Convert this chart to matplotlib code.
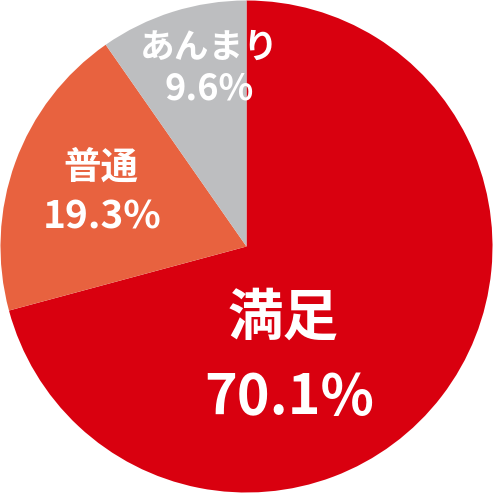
import matplotlib
matplotlib.use("Agg")
import matplotlib.pyplot as plt

categories = ["満足", "普通", "あんまり"]
values = [70.1, 19.3, 9.6]
value_labels = ["70.1%", "19.3%", "9.6%"]
colors = ["#d9000f", "#e8623f", "#bdbec0"]

plt.rcParams['font.family'] = ['Noto Sans CJK JP', 'DejaVu Sans']

fig = plt.figure(figsize=(4.93, 4.93), dpi=100)
ax = fig.add_axes([0, 0, 1, 1])
ax.pie(values, colors=colors, startangle=90, counterclock=False, radius=1.0,
       wedgeprops=dict(linewidth=0))
ax.set_xlim(-1.002, 1.002)
ax.set_ylim(-1.002, 1.002)
ax.set_aspect('equal')
ax.axis('off')

# label positions (name, value) and sizes
pos = [((0.148, -0.294), (0.172, -0.615), 40, 40),
       ((-0.590, 0.323), (-0.586, 0.118), 27, 28),
       ((-0.150, 0.809), (-0.150, 0.639), 25, 26)]
for cat, vl, (p1, p2, s1, s2) in zip(categories, value_labels, pos):
    ax.text(p1[0], p1[1], cat, ha='center', va='center', color='white',
            fontsize=s1, fontweight='bold')
    ax.text(p2[0], p2[1], vl, ha='center', va='center', color='white',
            fontsize=s2, fontweight='bold')

fig.savefig("out.png", dpi=100, facecolor='white')
